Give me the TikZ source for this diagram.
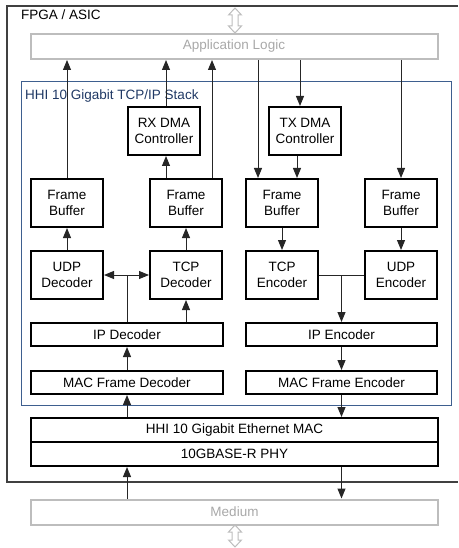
\documentclass[tikz,border=0pt]{standalone}
\usepackage{fontspec}
\setmainfont{Liberation Sans}
\usetikzlibrary{arrows.meta}

\definecolor{stackblue}{HTML}{3E5F8F}
\definecolor{stacktext}{HTML}{1F3864}
\definecolor{ghostline}{HTML}{BDBDBD}
\definecolor{ghosttext}{HTML}{A8A8A8}

\tikzset{
  lbl/.style={font=\fontsize{13.5}{16}\selectfont},
  blk/.style={lbl, draw=black, line width=2pt, minimum width=72pt, minimum height=48pt, align=center, inner sep=0pt},
  wideblk/.style={blk, minimum width=192pt, minimum height=23pt},
  fullblk/.style={blk, minimum width=407pt, minimum height=24pt},
  ghost/.style={lbl, draw=ghostline, text=ghosttext, line width=2pt, minimum width=407pt, minimum height=25pt, inner sep=0pt},
  link/.style={line width=1pt, black!85, -{Triangle[length=10pt,width=8pt]}},
  wire/.style={line width=1pt, black!85},
  hollow/.style={draw=ghostline, line width=1pt, fill=white}
}

\begin{document}
\begin{tikzpicture}[x=1pt,y=-1pt]
    \useasboundingbox (0,0) rectangle (458,548);

    % chip boundary
    \draw[line width=1.3pt, black!75] (458,6) -- (7,6) -- (7,482) -- (458,482);
    \node[lbl, anchor=west, inner sep=0pt] (fpga) at (21,15) {FPGA / ASIC};

    % stack boundary
    \draw[stackblue, line width=1pt] (21,82) rectangle (451,405);
    \node[lbl, anchor=west, inner sep=0pt, text=stacktext] (stack) at (25,96) {HHI 10 Gigabit TCP/IP Stack};

    % outside world
    \node[ghost] (app) at (234,46.5) {Application Logic};
    \node[ghost] (medium) at (234.5,512) {Medium};
    \draw[hollow] (235,8) -- (241.5,15) -- (238,15) -- (238,26) -- (241.5,26) -- (235,33)
        -- (228.5,26) -- (232,26) -- (232,15) -- (228.5,15) -- cycle;
    \draw[hollow] (235,525) -- (241.5,532) -- (238,532) -- (238,540) -- (241.5,540) -- (235,547)
        -- (228.5,540) -- (232,540) -- (232,532) -- (228.5,532) -- cycle;

    % receive side
    \node[blk] (rxdma) at (164,131) {RX DMA\\Controller};
    \node[blk] (fb1) at (67,203) {Frame\\Buffer};
    \node[blk] (fb2) at (186,203) {Frame\\Buffer};
    \node[blk] (udpdec) at (67,275) {UDP\\Decoder};
    \node[blk] (tcpdec) at (186,275) {TCP\\Decoder};
    \node[wideblk] (ipdec) at (127,334.5) {IP Decoder};
    \node[wideblk] (macdec) at (127,382.5) {MAC Frame Decoder};

    % transmit side
    \node[blk] (txdma) at (305,131) {TX DMA\\Controller};
    \node[blk] (fb3) at (282,203) {Frame\\Buffer};
    \node[blk] (fb4) at (401,203) {Frame\\Buffer};
    \node[blk] (tcpenc) at (282,275) {TCP\\Encoder};
    \node[blk] (udpenc) at (401,275) {UDP\\Encoder};
    \node[wideblk, minimum width=191pt] (ipenc) at (341.5,334.5) {IP Encoder};
    \node[wideblk, minimum width=191pt] (macenc) at (341.5,382.5) {MAC Frame Encoder};

    % MAC / PHY
    \node[fullblk] (mac) at (234.5,430) {HHI 10 Gigabit Ethernet MAC};
    \node[fullblk] (phy) at (234.5,454) {10GBASE-R PHY};

    % rx paths
    \draw[link] (fb1.north) -- (fb1.north |- app.south);
    \draw[link] (rxdma.north -| 166,0) -- (app.south -| 166,0);
    \draw[link] (fb2.north -| 212,0) -- (app.south -| 212,0);
    \draw[link] (fb2.north -| 166,0) -- (rxdma.south -| 166,0);
    \draw[link] (udpdec.north) -- (fb1.south);
    \draw[link] (tcpdec.north) -- (fb2.south);
    \draw[line width=1pt, black!85, {Triangle[length=10pt,width=8pt]}-{Triangle[length=10pt,width=8pt]}] (udpdec.east) -- (tcpdec.west);
    \draw[wire] (ipdec.north) -- (ipdec.north |- udpdec.east);
    \draw[link] (ipdec.north -| tcpdec) -- (tcpdec.south);
    \draw[link] (macdec.north) -- (ipdec.south);
    \draw[link] (mac.north -| macdec) -- (macdec.south);
    \draw[link] (medium.north -| macdec) -- (phy.south -| macdec);

    % tx paths
    \draw[link] (app.south -| 258,0) -- (fb3.north -| 258,0);
    \draw[link] (app.south -| 300,0) -- (txdma.north -| 300,0);
    \draw[link] (txdma.south -| 297,0) -- (fb3.north -| 297,0);
    \draw[link] (app.south -| fb4) -- (fb4.north);
    \draw[link] (fb3.south) -- (tcpenc.north);
    \draw[link] (fb4.south) -- (udpenc.north);
    \draw[wire] (tcpenc.east) -- (udpenc.west);
    \draw[link] (ipenc.north |- tcpenc.east) -- (ipenc.north);
    \draw[link] (ipenc.south) -- (macenc.north);
    \draw[link] (macenc.south) -- (macenc.south |- mac.north);
    \draw[link] (phy.south -| macenc) -- (medium.north -| macenc);
\end{tikzpicture}
\end{document}
